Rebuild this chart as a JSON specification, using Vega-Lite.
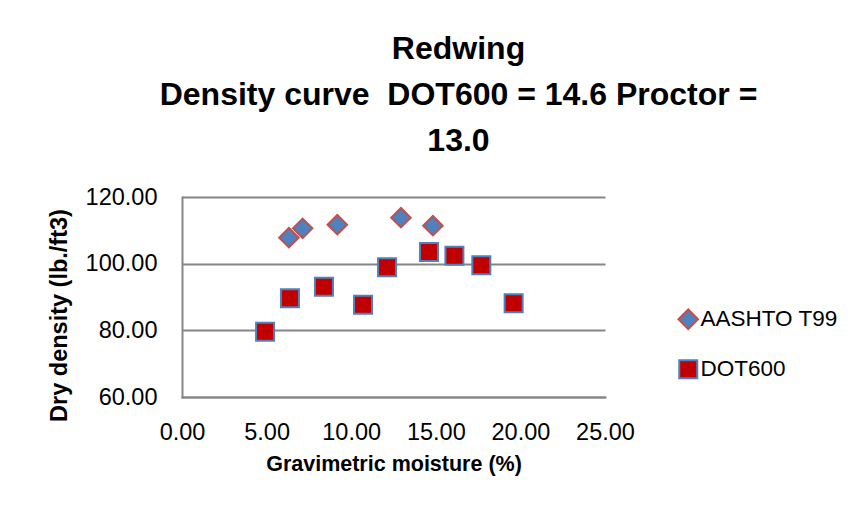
{
  "$schema": "https://vega.github.io/schema/vega-lite/v6.json",
  "width": 423,
  "height": 200,
  "autosize": {"type": "none"},
  "padding": {"left": 182, "top": 197, "right": 247, "bottom": 121},
  "background": "white",
  "title": {
    "text": ["Redwing", "Density curve \u00a0DOT600 = 14.6 Proctor =", "13.0"],
    "font": "Liberation Sans",
    "fontSize": 32,
    "fontWeight": "bold",
    "color": "#000000",
    "lineHeight": 46,
    "anchor": "middle",
    "dx": 65,
    "offset": 27
  },
  "data": {
    "values": [
      {"series": "AASHTO T99", "moisture": 6.32, "density": 107.8},
      {"series": "AASHTO T99", "moisture": 7.13, "density": 110.6},
      {"series": "AASHTO T99", "moisture": 9.18, "density": 111.7},
      {"series": "AASHTO T99", "moisture": 12.94, "density": 113.8},
      {"series": "AASHTO T99", "moisture": 14.83, "density": 111.4},
      {"series": "DOT600", "moisture": 4.91, "density": 79.6},
      {"series": "DOT600", "moisture": 6.38, "density": 89.6},
      {"series": "DOT600", "moisture": 8.39, "density": 93.1},
      {"series": "DOT600", "moisture": 10.7, "density": 87.7},
      {"series": "DOT600", "moisture": 12.12, "density": 98.9},
      {"series": "DOT600", "moisture": 14.6, "density": 103.5},
      {"series": "DOT600", "moisture": 16.1, "density": 102.4},
      {"series": "DOT600", "moisture": 17.69, "density": 99.5},
      {"series": "DOT600", "moisture": 19.6, "density": 88.1}
    ]
  },
  "mark": {"type": "point", "filled": true, "strokeWidth": 2, "opacity": 1},
  "encoding": {
    "x": {
      "field": "moisture",
      "type": "quantitative",
      "scale": {"domain": [0, 25], "nice": false, "zero": false},
      "axis": {
        "title": "Gravimetric moisture (%)",
        "values": [0, 5, 10, 15, 20, 25],
        "format": ".2f",
        "grid": false,
        "ticks": false,
        "domainColor": "#868686",
        "domainWidth": 2,
        "labelFont": "Liberation Sans",
        "labelFontSize": 23.5,
        "labelColor": "#000000",
        "labelPadding": 23,
        "labelFlush": false,
        "titleFont": "Liberation Sans",
        "titleFontSize": 21.5,
        "titleFontWeight": "bold",
        "titleColor": "#000000",
        "titlePadding": 10
      }
    },
    "y": {
      "field": "density",
      "type": "quantitative",
      "scale": {"domain": [60, 120], "nice": false, "zero": false},
      "axis": {
        "title": "Dry density (lb./ft3)",
        "values": [60, 80, 100, 120],
        "format": ".2f",
        "grid": true,
        "gridColor": "#868686",
        "gridWidth": 2,
        "ticks": false,
        "domainColor": "#868686",
        "domainWidth": 2,
        "labelFont": "Liberation Sans",
        "labelFontSize": 23.5,
        "labelColor": "#000000",
        "labelPadding": 25,
        "labelFlush": false,
        "titleFont": "Liberation Sans",
        "titleFontSize": 23.5,
        "titleFontWeight": "bold",
        "titleColor": "#000000",
        "titlePadding": 14,
        "titleY": 118
      }
    },
    "fill": {
      "field": "series",
      "type": "nominal",
      "scale": {"domain": ["AASHTO T99", "DOT600"], "range": ["#4F81BD", "#C00000"]},
      "legend": {
        "title": null,
        "orient": "none",
        "legendX": 495,
        "legendY": 111,
        "padding": 0,
        "rowPadding": 23,
        "symbolSize": 324,
        "symbolStrokeWidth": 2,
        "labelFont": "Liberation Sans",
        "labelFontSize": 22.5,
        "labelColor": "#000000",
        "labelOffset": 1,
        "symbolOpacity": 1
      }
    },
    "stroke": {
      "field": "series",
      "type": "nominal",
      "scale": {"domain": ["AASHTO T99", "DOT600"], "range": ["#C0504D", "#4F81BD"]}
    },
    "shape": {
      "field": "series",
      "type": "nominal",
      "scale": {"domain": ["AASHTO T99", "DOT600"], "range": ["diamond", "square"]}
    },
    "size": {
      "field": "series",
      "type": "nominal",
      "scale": {"domain": ["AASHTO T99", "DOT600"], "range": [380, 324]}
    }
  },
  "config": {
    "view": {"stroke": null},
    "axis": {"domainCap": "square"}
  }
}
